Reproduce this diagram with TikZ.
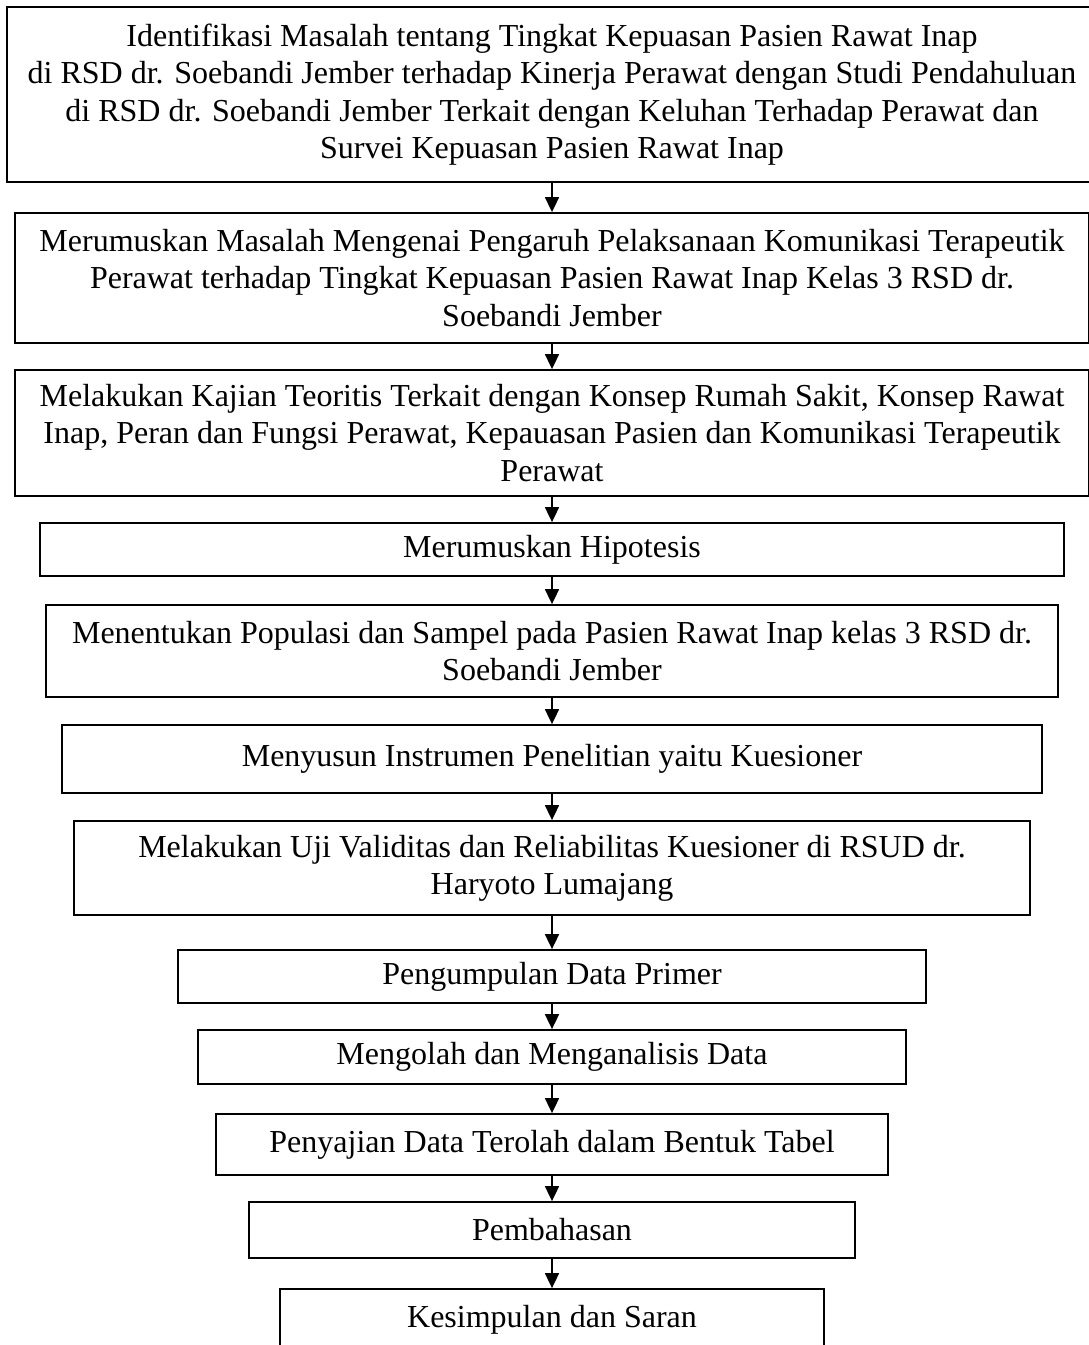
\documentclass[tikz,border=0pt]{standalone}
\usepackage{fontspec}
\setmainfont{Liberation Serif}
\usepackage{tikz}
\usetikzlibrary{arrows.meta, positioning}

\begin{document}
\begin{tikzpicture}[
    x=0.01cm, y=-0.01cm,
    every node/.style={font=\fontsize{9.1}{10.6}\selectfont},
    box/.style={draw, line width=0.5pt, align=center, inner sep=0pt},
    arr/.style={-{Triangle[length=1.5mm, width=1.4mm]}, line width=0.5pt},
]
\useasboundingbox (0,0) rectangle (1089,1345);
\node[box, minimum width=10.90cm, minimum height=1.75cm] (ident) at (552,94.5)
    {Identifikasi Masalah tentang Tingkat Kepuasan Pasien Rawat Inap\\
     di RSD dr. Soebandi Jember terhadap Kinerja Perawat dengan Studi Pendahuluan\\
     di RSD dr. Soebandi Jember Terkait dengan Keluhan Terhadap Perawat dan\\
     Survei Kepuasan Pasien Rawat Inap};
\node[box, minimum width=10.73cm, minimum height=1.30cm] (rumus) at (552,278)
    {Merumuskan Masalah Mengenai Pengaruh Pelaksanaan Komunikasi Terapeutik\\
     Perawat terhadap Tingkat Kepuasan Pasien Rawat Inap Kelas 3 RSD dr.\\
     Soebandi Jember};
\node[box, minimum width=10.73cm, minimum height=1.26cm] (kajian) at (552,433)
    {Melakukan Kajian Teoritis Terkait dengan Konsep Rumah Sakit, Konsep Rawat\\
     Inap, Peran dan Fungsi Perawat, Kepauasan Pasien dan Komunikasi Terapeutik\\
     Perawat};
\node[box, minimum width=10.23cm, minimum height=0.53cm] (hipo) at (552,549.5)
    {Merumuskan Hipotesis};
\node[box, minimum width=10.12cm, minimum height=0.92cm] (popul) at (552,651)
    {Menentukan Populasi dan Sampel pada Pasien Rawat Inap kelas 3 RSD dr.\\
     Soebandi Jember};
\node[box, minimum width=9.80cm, minimum height=0.68cm] (instr) at (552,759)
    {Menyusun Instrumen Penelitian yaitu Kuesioner};
\node[box, minimum width=9.55cm, minimum height=0.94cm] (uji) at (552,868)
    {Melakukan Uji Validitas dan Reliabilitas Kuesioner di RSUD dr.\\
     Haryoto Lumajang};
\node[box, minimum width=7.47cm, minimum height=0.53cm] (kumpul) at (552,976.5)
    {Pengumpulan Data Primer};
\node[box, minimum width=7.08cm, minimum height=0.54cm] (olah) at (552,1057)
    {Mengolah dan Menganalisis Data};
\node[box, minimum width=6.72cm, minimum height=0.61cm] (saji) at (552,1144.5)
    {Penyajian Data Terolah dalam Bentuk Tabel};
\node[box, minimum width=6.05cm, minimum height=0.56cm] (bahas) at (552,1230)
    {Pembahasan};
\node[box, minimum width=5.44cm, minimum height=0.61cm] (simpul) at (552,1319.5)
    {Kesimpulan dan Saran};

\draw[arr] (ident)  -- (rumus);
\draw[arr] (rumus)  -- (kajian);
\draw[arr] (kajian) -- (hipo);
\draw[arr] (hipo)   -- (popul);
\draw[arr] (popul)  -- (instr);
\draw[arr] (instr)  -- (uji);
\draw[arr] (uji)    -- (kumpul);
\draw[arr] (kumpul) -- (olah);
\draw[arr] (olah)   -- (saji);
\draw[arr] (saji)   -- (bahas);
\draw[arr] (bahas)  -- (simpul);
\end{tikzpicture}
\end{document}
